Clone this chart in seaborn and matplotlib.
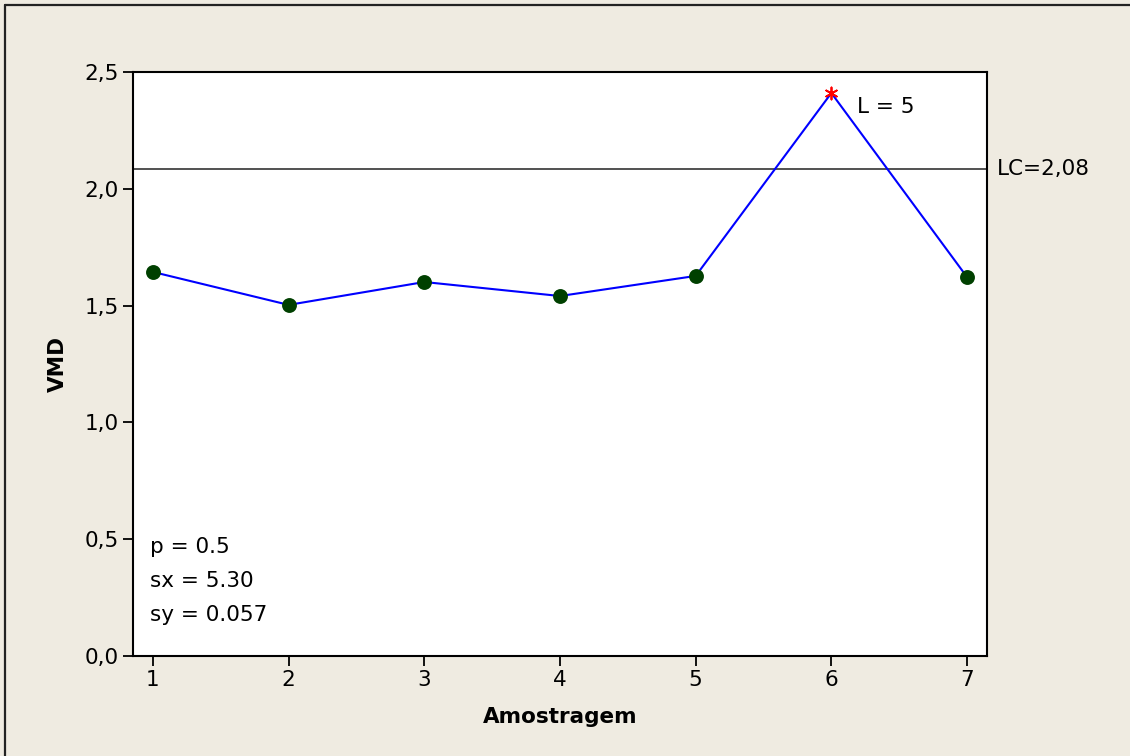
import matplotlib
matplotlib.use("Agg")
import matplotlib.pyplot as plt
import matplotlib.lines as mlines
import seaborn as sns
import pandas as pd
import numpy as np

# Data
samples = [1, 2, 3, 4, 5, 6, 7]
vmd = [1.644, 1.503, 1.601, 1.541, 1.627, 2.41, 1.622]
flagged = [False, False, False, False, False, True, False]
lc_value = 2.085
lc_label = "LC=2,08"
point_label = "L = 5"
stats_text = ["p = 0.5", "sx = 5.30", "sy = 0.057"]
y_ticks = [0.0, 0.5, 1.0, 1.5, 2.0, 2.5]
y_tick_labels = ["0,0", "0,5", "1,0", "1,5", "2,0", "2,5"]

df = pd.DataFrame({"Amostragem": samples, "VMD": vmd, "flag": flagged})

sns.set_theme(style="white")
plt.rcParams['font.family'] = ['DejaVu Sans']

bg = "#EFEBE1"
fs = 15.5
fig = plt.figure(figsize=(11.3, 7.56), dpi=100, facecolor=bg)
ax = fig.add_axes([133/1130, 1 - 656/756, (987 - 133)/1130, (656 - 72)/756])
ax.set_facecolor("white")

ax.axhline(lc_value, color="#333333", lw=1.2, zorder=1)
sns.lineplot(data=df, x="Amostragem", y="VMD", ax=ax, color="#0000FF", lw=1.5,
             zorder=2, legend=False)
normal = df[~df["flag"]]
bad = df[df["flag"]]
sns.scatterplot(data=normal, x="Amostragem", y="VMD", ax=ax, color="#004000",
                s=115, edgecolor="#004000", linewidth=0, zorder=3, legend=False)
sns.scatterplot(data=bad, x="Amostragem", y="VMD", ax=ax, color="#FF0000",
                marker=(6, 2, 0), s=75, linewidth=1.3, zorder=3, legend=False)

ax.set_xlim(0.853, 7.147)
ax.set_ylim(0, 2.5)
ax.set_xticks(samples)
ax.set_xticklabels([str(s) for s in samples])
ax.set_yticks(y_ticks)
ax.set_yticklabels(y_tick_labels)
ax.tick_params(axis="both", direction="out", length=7, width=1.3, color="black",
               labelsize=fs, labelcolor="black", pad=3)
ax.tick_params(axis="x", bottom=True, pad=3)
ax.tick_params(axis="y", left=True)
for sp in ax.spines.values():
    sp.set_color("black")
    sp.set_linewidth(1.5)
    sp.set_visible(True)

ax.set_xlabel("Amostragem", fontsize=fs, fontweight="bold", color="black", labelpad=12)
ax.set_ylabel("VMD", fontsize=fs, fontweight="bold", color="black", labelpad=12)

for i, row in bad.iterrows():
    ax.text(row["Amostragem"] + 0.19, row["VMD"] - 0.06, point_label,
            fontsize=fs, va="center", ha="left", color="black")

ax.text(1.012, lc_value, lc_label, transform=ax.get_yaxis_transform(),
        fontsize=fs, va="center", ha="left", color="black", clip_on=False)

for k, t in enumerate(stats_text):
    ax.text(0.02, 0.187 - k * 0.058, t, transform=ax.transAxes,
            fontsize=fs, va="center", ha="left", color="black")

# outer frame (top and left edges)
fig.add_artist(mlines.Line2D([5/1130, 1.0], [1 - 5/756, 1 - 5/756],
                             transform=fig.transFigure, color="#222222", lw=1.6))
fig.add_artist(mlines.Line2D([5/1130, 5/1130], [0.0, 1 - 5/756],
                             transform=fig.transFigure, color="#222222", lw=1.6))

fig.savefig("out.png", dpi=100, facecolor=bg)
